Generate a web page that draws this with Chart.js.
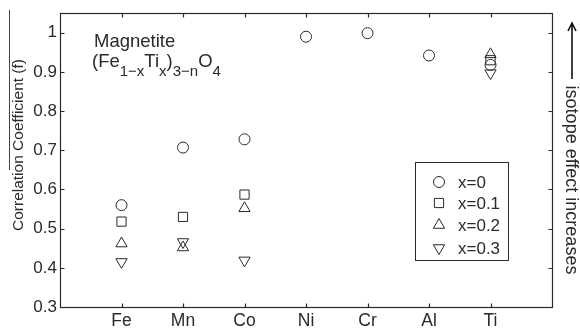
<!DOCTYPE html>
<html>
<head>
<meta charset="utf-8">
<script src="https://cdn.jsdelivr.net/npm/chart.js@4.4.1/dist/chart.umd.min.js"></script>
<style>
  html, body { margin: 0; padding: 0; background: #fff; }
  #wrap { width: 580px; height: 329px; }
</style>
</head>
<body>
<div id="wrap"><canvas id="myChart" width="580" height="329"></canvas></div>
<script>
"use strict";

//data
const categories = ['Fe', 'Mn', 'Co', 'Ni', 'Cr', 'Al', 'Ti'];
const yTicks = [0.3, 0.4, 0.5, 0.6, 0.7, 0.8, 0.9, 1];
const seriesNames = ['x=0', 'x=0.1', 'x=0.2', 'x=0.3'];

const x00 = [0.56, 0.707, 0.728, 0.99, 0.999, 0.942, 0.918];
const x01 = [0.518, 0.53, 0.587, null, null, null, 0.93];
const x02 = [0.462, 0.452, 0.552, null, null, null, 0.945];
const x03 = [0.415, 0.466, 0.419, null, null, null, 0.897];

const ink = '#2a2a2a';
const font = 'Liberation Sans, Arial, Helvetica, sans-serif';

//turn a value list into points at category positions 1..7
function toPoints(vals) {
    return vals.map((v, i) => ({x: i + 1, y: v})).filter(p => p.y !== null);
}

function makeSet(label, vals, style, radius, rotation) {
    return {
        label: label,
        data: toPoints(vals),
        pointStyle: style,
        pointRadius: radius,
        pointHoverRadius: radius,
        rotation: rotation,
        pointBorderWidth: 1,
        borderColor: ink,
        backgroundColor: 'rgba(0,0,0,0)',
        showLine: false
    };
}

const data = {
    datasets: [
        makeSet(seriesNames[0], x00, 'circle', 5.5, 0),
        makeSet(seriesNames[1], x01, 'rect', 6.5, 0),
        makeSet(seriesNames[2], x02, 'triangle', 6.5, 0),
        makeSet(seriesNames[3], x03, 'triangle', 6.5, 180)
    ]
};

//box, inward ticks, legend, labels
const extras = {
    id: 'extras',
    afterDraw(chart) {
        const ctx = chart.ctx;
        const a = chart.chartArea;
        const xs = chart.scales.x, ys = chart.scales.y;
        const L = Math.round(a.left) + 0.5, R = Math.round(a.right) + 0.5;
        const T = Math.round(a.top) + 0.5, B = Math.round(a.bottom) + 0.5;
        ctx.save();
        ctx.strokeStyle = ink;
        ctx.lineWidth = 1.2;
        ctx.strokeRect(L, T, R - L, B - T);
        ctx.beginPath();
        xs.ticks.forEach(t => {
            const px = Math.round(xs.getPixelForValue(t.value)) + 0.5;
            ctx.moveTo(px, B); ctx.lineTo(px, B - 4);
            ctx.moveTo(px, T); ctx.lineTo(px, T + 4);
        });
        ys.ticks.forEach(t => {
            const py = Math.round(ys.getPixelForValue(t.value)) + 0.5;
            ctx.moveTo(L, py); ctx.lineTo(L + 4, py);
            ctx.moveTo(R, py); ctx.lineTo(R - 4, py);
        });
        ctx.stroke();

        //stray rule left of the axis title
        ctx.lineWidth = 1;
        ctx.strokeStyle = '#444';
        ctx.beginPath();
        ctx.moveTo(9.5, 10); ctx.lineTo(9.5, 170);
        ctx.stroke();

        //axis title, sits a bit above the axis middle
        ctx.save();
        ctx.translate(18.5, 145);
        ctx.rotate(-Math.PI / 2);
        ctx.font = '15.5px ' + font;
        ctx.textAlign = 'center';
        ctx.textBaseline = 'middle';
        ctx.fillStyle = ink;
        ctx.fillText('Correlation Coefficient (f)', 0, 0);
        ctx.restore();

        //legend box
        const bx = 415.5, by = 162.5, bw = 93, bh = 98;
        ctx.fillStyle = '#fff';
        ctx.fillRect(bx, by, bw, bh);
        ctx.strokeStyle = ink;
        ctx.lineWidth = 1;
        ctx.strokeRect(bx, by, bw, bh);
        const rowY = [182, 203, 225, 248];
        ctx.font = '17px ' + font;
        ctx.textBaseline = 'middle';
        ctx.textAlign = 'left';
        chart.data.datasets.forEach((ds, i) => {
            ctx.fillStyle = 'rgba(0,0,0,0)';
            ctx.strokeStyle = ink;
            Chart.helpers.drawPoint(ctx, {
                pointStyle: ds.pointStyle,
                radius: ds.pointRadius,
                rotation: ds.rotation,
                borderWidth: 1
            }, 439, rowY[i]);
            ctx.fillStyle = ink;
            ctx.fillText(ds.label, 458, rowY[i] + 1);
        });

        //compound label
        ctx.fillStyle = ink;
        ctx.textBaseline = 'alphabetic';
        ctx.font = '18.5px ' + font;
        ctx.fillText('Magnetite', 94, 47);
        const parts = [['(Fe', 0], ['1−x', 1], ['Ti', 0], ['x', 1], [')', 0], ['3−n', 1], ['O', 0], ['4', 1]];
        let cx = 92;
        parts.forEach(p => {
            ctx.font = (p[1] ? '15px ' : '18.5px ') + font;
            ctx.fillText(p[0], cx, p[1] ? 76 : 67);
            cx += ctx.measureText(p[0]).width;
        });

        //arrow and side note
        ctx.strokeStyle = '#111';
        ctx.lineWidth = 1.6;
        ctx.beginPath();
        ctx.moveTo(572, 79); ctx.lineTo(572, 23);
        ctx.moveTo(568, 31); ctx.lineTo(572, 23); ctx.lineTo(576, 31);
        ctx.stroke();
        ctx.translate(571, 180);
        ctx.rotate(Math.PI / 2);
        ctx.font = '18px ' + font;
        ctx.textAlign = 'center';
        ctx.textBaseline = 'middle';
        ctx.fillStyle = ink;
        ctx.fillText('isotope effect increases', 0, 0);
        ctx.restore();
    }
};

const config = {
    type: 'scatter',
    data,
    options: {
        responsive: false,
        animation: false,
        devicePixelRatio: 1,
        layout: {
            padding: {top: 12, right: 28, bottom: 0, left: 0}
        },
        scales: {
            x: {
                type: 'linear',
                min: 0,
                max: 8,
                grid: {display: false, drawTicks: false},
                border: {display: false},
                afterBuildTicks: s => { s.ticks = categories.map((c, i) => ({value: i + 1})); },
                afterFit: s => { s.height = 22; },
                ticks: {
                    autoSkip: false,
                    maxRotation: 0,
                    padding: 4,
                    color: ink,
                    font: {family: font, size: 17.5},
                    callback: v => categories[v - 1]
                }
            },
            y: {
                type: 'linear',
                min: 0.3,
                max: 1.05,
                grid: {display: false, drawTicks: false},
                border: {display: false},
                afterBuildTicks: s => { s.ticks = yTicks.map(v => ({value: v})); },
                afterFit: s => { s.width = 60; },
                ticks: {
                    padding: 3,
                    color: ink,
                    font: {family: font, size: 17},
                    callback: v => String(+v.toFixed(1))
                }
            }
        },
        plugins: {
            legend: {display: false},
            tooltip: {enabled: false}
        }
    },
    plugins: [extras]
};

const myChart = new Chart(document.getElementById('myChart'), config);
</script>
</body>
</html>
